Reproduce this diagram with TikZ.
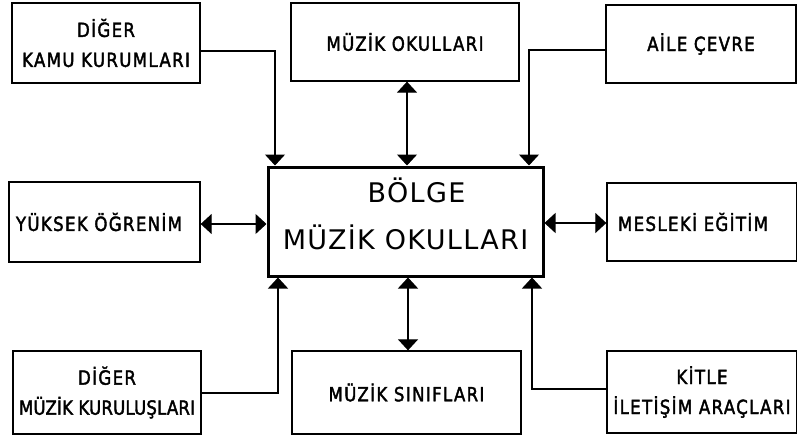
\documentclass[tikz,border=0pt]{standalone}
\usepackage{fontspec}
\setmainfont{DejaVu Sans}
\newfontfamily\boxfont[FakeBold=2,FakeStretch=0.85,LetterSpace=7]{DejaVu Sans}
\newfontfamily\tightfont[FakeBold=2,FakeStretch=0.85,LetterSpace=1]{DejaVu Sans}
\newfontfamily\bigfont[LetterSpace=5]{DejaVu Sans}
\usetikzlibrary{arrows.meta}
\begin{document}
\begin{tikzpicture}[x=1pt,y=-1pt,
 box/.style={draw,line width=1.3pt,inner sep=1pt,align=center,font=\boxfont\fontsize{19.5}{30}\selectfont},
 central/.style={draw,line width=3pt,inner sep=1pt,align=center,text depth=16pt,font=\bigfont\fontsize{27}{47}\selectfont},
 conn/.style={line width=1.2pt,arrows={-Triangle[width=20pt,length=11pt]}},
 biconn/.style={line width=1.2pt,arrows={Triangle[width=20pt,length=11pt]-Triangle[width=20pt,length=11pt]}}]
\useasboundingbox (0,0) rectangle (797,442);
% boxes
\node[box,minimum width=188pt,minimum height=80pt] (kamu) at (106,43) {DİĞER\\KAMU KURUMLARI};
\node[box,minimum width=228pt,minimum height=78pt] (okul) at (405,42) {MÜZİK OKULLARI};
\node[box,minimum width=190pt,minimum height=78pt] (aile) at (701,44) {AİLE ÇEVRE};
\node[box,minimum width=191pt,minimum height=80pt] (yuksek) at (104.5,222) {\hspace*{-11pt}YÜKSEK ÖĞRENİM};
\node[central,minimum width=275pt,minimum height=109pt] (bolge) at (405.5,221.5) {\hspace*{22pt}BÖLGE\\MÜZİK OKULLARI};
\node[box,minimum width=190pt,minimum height=78pt] (meslek) at (702,222) {\hspace*{-18pt}MESLEKİ EĞİTİM};
\node[box,minimum width=188pt,minimum height=83pt] (muzkur) at (107,392.5) {DİĞER\\{\tightfont MÜZİK KURULUŞLARI}};
\node[box,minimum width=229pt,minimum height=83pt] (sinif) at (406.5,392.5) {MÜZİK SINIFLARI};
\node[box,minimum width=190pt,minimum height=82pt] (kitle) at (702,392) {KİTLE\\İLETİŞİM ARAÇLARI};
% bend points
\coordinate (k1) at (275,51);
\coordinate (a1) at (529,50);
\coordinate (m1) at (278,393);
\coordinate (t1) at (532,389);
\coordinate (c1) at (407,0);
\coordinate (c2) at (408,0);
\coordinate (y1) at (0,224);
\coordinate (y2) at (0,223);
% connectors
\draw[conn] (kamu.east |- k1) -| (bolge.north -| k1);
\draw[conn] (aile.west |- a1) -| (bolge.north -| a1);
\draw[conn] (muzkur.east |- m1) -| (bolge.south -| m1);
\draw[conn] (kitle.west |- t1) -| (bolge.south -| t1);
\draw[biconn] (okul.south -| c1) -- (bolge.north -| c1);
\draw[biconn] (sinif.north -| c2) -- (bolge.south -| c2);
\draw[biconn] (yuksek.east |- y1) -- (bolge.west |- y1);
\draw[biconn] (meslek.west |- y2) -- (bolge.east |- y2);
\end{tikzpicture}
\end{document}
